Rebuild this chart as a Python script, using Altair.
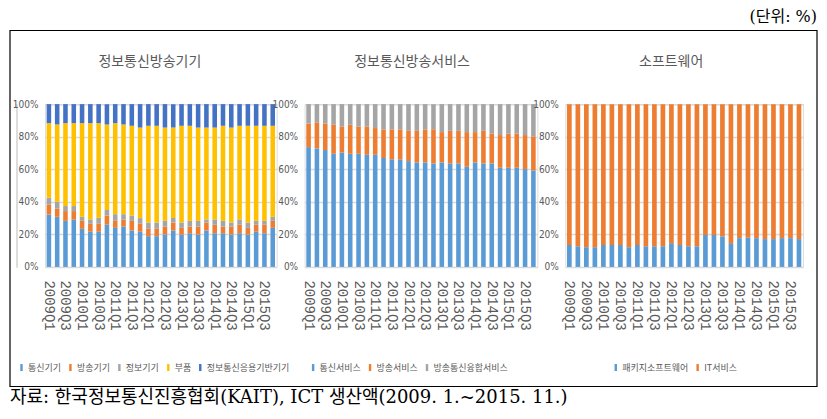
import altair as alt
import pandas as pd

# ---------------- data ----------------
quarters = [
    "2009Q1", "2009Q2", "2009Q3", "2009Q4",
    "2010Q1", "2010Q2", "2010Q3", "2010Q4",
    "2011Q1", "2011Q2", "2011Q3", "2011Q4",
    "2012Q1", "2012Q2", "2012Q3", "2012Q4",
    "2013Q1", "2013Q2", "2013Q3", "2013Q4",
    "2014Q1", "2014Q2", "2014Q3", "2014Q4",
    "2015Q1", "2015Q2", "2015Q3", "2015Q4",
]
tick_labels = [q for q in quarters if q.endswith("Q1") or q.endswith("Q3")]

# Panel 1: 정보통신방송기기
p1_title = "정보통신방송기기"
p1_series = ["통신기기", "방송기기", "정보기기", "부품", "정보통신응용기반기기"]
p1_colors = ["#5B9BD5", "#ED7D31", "#A5A5A5", "#FFC000", "#4472C4"]
p1_통신기기 = [32.2, 30.8, 28.3, 29.0, 23.4, 21.6, 21.6, 25.9, 24.0, 24.8, 22.4, 21.6, 18.9, 18.9,
             19.9, 22.4, 19.9, 20.7, 19.9, 22.4, 20.7, 20.7, 19.9, 20.7, 19.9, 21.6, 20.7, 24.0]
p1_방송기기 = [6.0, 5.1, 6.0, 5.3, 4.9, 4.9, 4.9, 5.7, 4.3, 4.2, 5.9, 4.9, 4.5, 4.5,
             4.9, 4.9, 4.1, 4.1, 4.9, 4.9, 5.2, 4.1, 4.9, 5.2, 4.1, 4.3, 5.2, 4.3]
p1_정보기기 = [4.3, 4.1, 3.1, 3.1, 2.5, 2.7, 3.7, 3.3, 4.1, 3.4, 3.3, 3.5, 3.9, 3.9,
             3.5, 2.7, 3.3, 3.5, 3.5, 1.9, 3.3, 3.5, 2.5, 3.3, 3.3, 2.4, 2.4, 2.5]
p1_부품 = [45.8, 47.5, 50.9, 50.9, 57.5, 59.1, 58.1, 52.6, 55.9, 55.1, 55.1, 55.6, 59.4, 59.4,
         57.3, 55.6, 59.4, 58.4, 57.3, 56.4, 56.4, 58.4, 58.3, 57.5, 59.4, 58.4, 58.4, 55.9]
p1_응용기반 = [11.7, 12.5, 11.7, 11.7, 11.7, 11.7, 11.7, 12.5, 11.7, 12.5, 13.3, 14.4, 13.3, 13.3,
           14.4, 14.4, 13.3, 13.3, 14.4, 14.4, 14.4, 13.3, 14.4, 13.3, 13.3, 13.3, 13.3, 13.3]

# Panel 2: 정보통신방송서비스
p2_title = "정보통신방송서비스"
p2_series = ["통신서비스", "방송서비스", "방송통신융합서비스"]
p2_colors = ["#5B9BD5", "#ED7D31", "#A5A5A5"]
p2_통신서비스 = [73.6, 72.8, 71.8, 69.5, 70.3, 69.5, 69.5, 68.9, 68.9, 66.9, 66.1, 66.1, 65.0, 64.2,
              64.2, 63.6, 64.2, 63.6, 63.6, 61.5, 64.2, 63.6, 63.6, 60.9, 60.9, 60.9, 60.1, 59.3]
p2_방송서비스 = [14.5, 16.0, 16.3, 17.8, 16.0, 17.8, 16.8, 17.4, 16.4, 17.6, 18.4, 18.4, 18.6, 19.4,
              20.3, 20.9, 18.6, 20.0, 20.0, 21.3, 18.6, 20.0, 18.2, 20.1, 20.9, 20.9, 20.9, 20.9]
p2_융합서비스 = [11.9, 11.2, 11.9, 12.7, 13.7, 12.7, 13.7, 13.7, 14.7, 15.5, 15.5, 15.5, 16.4, 16.4,
              15.5, 15.5, 17.2, 16.4, 16.4, 17.2, 17.2, 16.4, 18.2, 19.0, 18.2, 18.2, 19.0, 19.8]

# Panel 3: 소프트웨어
p3_title = "소프트웨어"
p3_series = ["패키지소프트웨어", "IT서비스"]
p3_colors = ["#5B9BD5", "#ED7D31"]
p3_패키지SW = [13.5, 12.7, 12.1, 12.1, 13.5, 13.5, 13.5, 12.1, 13.5, 12.7, 12.7, 12.7, 14.6, 13.5,
             12.7, 12.7, 19.6, 19.6, 18.8, 14.6, 17.7, 18.1, 17.7, 17.1, 17.1, 17.7, 17.7, 17.1]
p3_IT서비스 = [86.5, 87.3, 87.9, 87.9, 86.5, 86.5, 86.5, 87.9, 86.5, 87.3, 87.3, 87.3, 85.4, 86.5,
            87.3, 87.3, 80.4, 80.4, 81.2, 85.4, 82.3, 81.9, 82.3, 82.9, 82.9, 82.3, 82.3, 82.9]

unit_text = "(단위: %)"
source_text = "자료: 한국정보통신진흥협회(KAIT), ICT 생산액(2009. 1.~2015. 11.)"

KFONT = "Noto Sans CJK KR"
SERIF_K = "DejaVu Serif, Noto Sans CJK KR"
GRAY = "#595959"


def long_table(series_names, columns):
    rows = []
    for k, (name, vals) in enumerate(zip(series_names, columns)):
        for q, v in zip(quarters, vals):
            rows.append({"quarter": q, "series": name, "value": v, "ord": k})
    return pd.DataFrame(rows)


def panel(title, series_names, colors, columns, width, legend_x, title_dx):
    df = long_table(series_names, columns)
    return (
        alt.Chart(df)
        .mark_bar()
        .encode(
            x=alt.X(
                "quarter:N",
                sort=quarters,
                scale=alt.Scale(paddingInner=0.45, paddingOuter=0.2),
                axis=alt.Axis(
                    values=tick_labels, labelAngle=90, title=None, ticks=False, domain=False,
                    grid=False, labelFont="Liberation Mono", labelFontSize=14,
                    labelColor=GRAY, labelPadding=13, labelOverlap=False,
                ),
            ),
            y=alt.Y(
                "value:Q",
                stack="normalize",
                scale=alt.Scale(domain=[0, 1], nice=False),
                axis=alt.Axis(
                    values=[0, 0.2, 0.4, 0.6, 0.8, 1.0], format=".0%", title=None,
                    ticks=False, domain=False, gridColor="#D9D9D9", gridWidth=1.5,
                    labelFont="Liberation Sans Narrow, DejaVu Sans Condensed, Liberation Sans",
                    labelFontSize=10, labelColor=GRAY, labelPadding=7,
                ),
            ),
            color=alt.Color(
                "series:N",
                sort=series_names,
                scale=alt.Scale(domain=series_names, range=colors),
                legend=alt.Legend(
                    title=None, orient="none", direction="horizontal",
                    legendX=legend_x, legendY=259,
                    symbolType="M-0.35,-1H0.35V1H-0.35Z", symbolSize=49,
                    symbolStrokeWidth=0, labelFont=KFONT, labelFontSize=9,
                    labelColor=GRAY, labelOffset=2, columnPadding=4,
                ),
            ),
            order=alt.Order("ord:Q"),
        )
        .properties(
            width=width,
            height=163,
            title=alt.TitleParams(
                title, font=KFONT, fontSize=14, fontWeight="normal", color=GRAY,
                anchor="middle", frame="group", dx=title_dx, offset=30,
            ),
        )
    )


p1 = panel(p1_title, p1_series, p1_colors,
           [p1_통신기기, p1_방송기기, p1_정보기기, p1_부품, p1_응용기반], 232, -28, -11)
p2 = panel(p2_title, p2_series, p2_colors,
           [p2_통신서비스, p2_방송서비스, p2_융합서비스], 233, 4, -9)
p3 = panel(p3_title, p3_series, p3_colors,
           [p3_패키지SW, p3_IT서비스], 238, 46, -13)

# decoration: outer frame, unit note, source line (drawn relative to an empty first cell)
box = alt.Chart(pd.DataFrame({"k": [0]})).mark_rect(
    fillOpacity=0, stroke="black", strokeWidth=1.2
).encode(x=alt.value(-6), x2=alt.value(802), y=alt.value(-73.7), y2=alt.value(282.7))
unit = alt.Chart(pd.DataFrame({"t": [unit_text]})).mark_text(
    align="right", baseline="top", font=SERIF_K, fontSize=16, color="black"
).encode(text="t:N", x=alt.value(802), y=alt.value(-95))
source = alt.Chart(pd.DataFrame({"t": [source_text]})).mark_text(
    align="left", baseline="top", font=SERIF_K, fontSize=18, color="black"
).encode(text="t:N", x=alt.value(-6), y=alt.value(285))
deco = alt.layer(box, unit, source).properties(width=1, height=163)

chart = (
    alt.hconcat(deco, p1, p2, p3, spacing=28, bounds="flush", padding=0)
    .resolve_scale(color="independent", x="independent", y="independent")
    .resolve_legend(color="independent")
    .configure_view(strokeWidth=0)
    .configure(background="white")
)

chart.save("out.html", embed_options={"renderer": "svg", "actions": False})
